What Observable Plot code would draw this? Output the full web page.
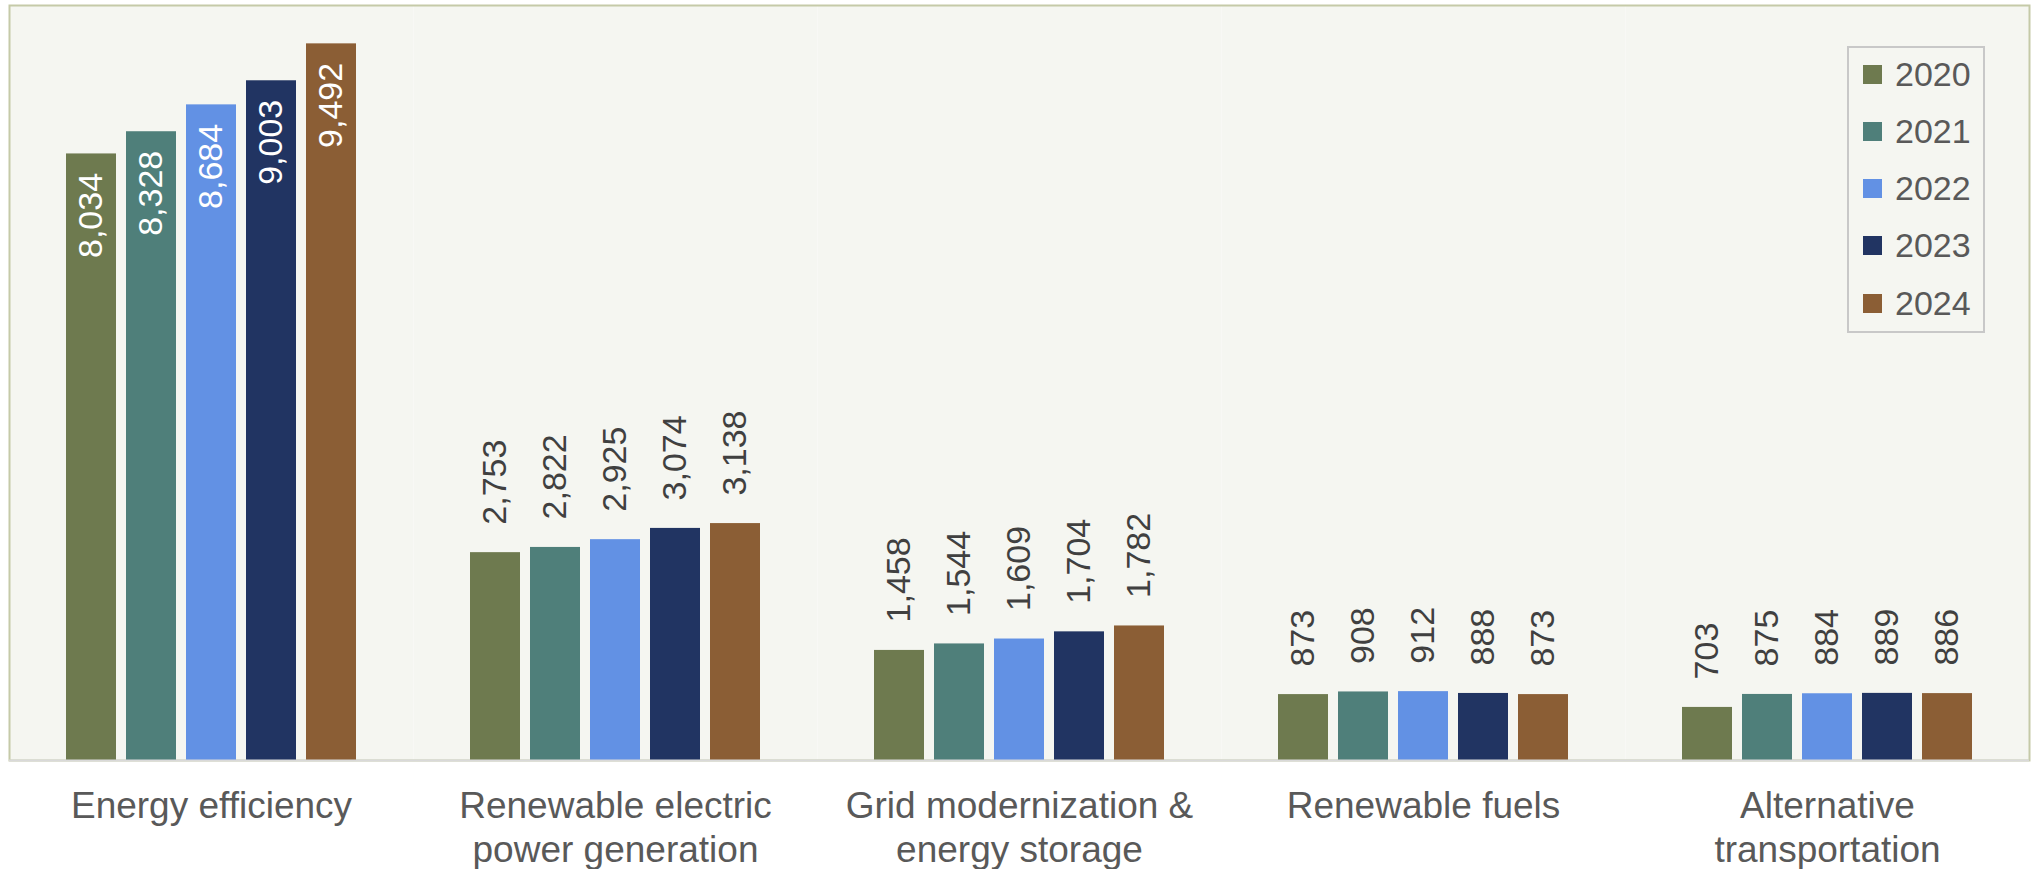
<!DOCTYPE html>
<html>
<head>
<meta charset="utf-8">
<script src="https://cdn.jsdelivr.net/npm/d3@7"></script>
<script src="https://cdn.jsdelivr.net/npm/@observablehq/plot@0.6"></script>
<style>
  html, body { margin: 0; padding: 0; background: #ffffff; }
  #wrap { position: relative; width: 2034px; height: 869px; font-family: "Liberation Sans", Arial, sans-serif; }
  #legend {
    position: absolute; left: 1847px; top: 46px; width: 138px; height: 287px;
    box-sizing: border-box; border: 2px solid #c8c8c8; background: #f5f6f1;
    display: flex; flex-direction: column; justify-content: space-between;
    padding: 6px 0 8px 14px; font-size: 34px; color: #595959;
  }
  #legend .row { display: flex; align-items: center; height: 40px; }
  #legend .sw { width: 19px; height: 19px; margin-right: 13px; flex: none; }
</style>
</head>
<body>
<div id="wrap"></div>
<script>
// Investment categories and their axis labels (two-line where wrapped)
const categories = [
  "Energy efficiency",
  "Renewable electric power generation",
  "Grid modernization & energy storage",
  "Renewable fuels",
  "Alternative transportation"
];
const categoryLabels = [
  "Energy efficiency",
  "Renewable electric\npower generation",
  "Grid modernization &\nenergy storage",
  "Renewable fuels",
  "Alternative\ntransportation"
];

// Years (series) and their colours
const years = ["2020", "2021", "2022", "2023", "2024"];
const yearColors = ["#6e7a4f", "#4f7f7a", "#6291e4", "#213462", "#8b5e35"];

// Values per year, in category order
const values2020 = [8034, 2753, 1458, 873, 703];
const values2021 = [8328, 2822, 1544, 908, 875];
const values2022 = [8684, 2925, 1609, 912, 884];
const values2023 = [9003, 3074, 1704, 888, 889];
const values2024 = [9492, 3138, 1782, 873, 886];
const seriesValues = [values2020, values2021, values2022, values2023, values2024];

// Long-format table for the grouped bars
const rows = [];
categories.forEach((category, i) => {
  years.forEach((year, j) => {
    rows.push({category, year, value: seriesValues[j][i]});
  });
});

const labelOf = new Map(categories.map((c, i) => [c, categoryLabels[i]]));
const fmt = d3.format(",");
const insideThreshold = 5000; // tall bars carry their label inside

const chart = Plot.plot({
  width: 2034,
  height: 869,
  marginTop: 5,
  marginLeft: 8,
  marginRight: 5,
  marginBottom: 109,
  style: {
    background: "transparent",
    color: "#595959",
    fontFamily: "'Liberation Sans', Arial, sans-serif",
    fontSize: "34px",
    overflow: "visible"
  },
  fx: {domain: categories, padding: 0, label: null},
  x: {domain: years, paddingInner: 0.17, paddingOuter: 0.9, axis: null},
  y: {domain: [0, 10000], axis: null},
  color: {domain: years, range: yearColors},
  marks: [
    Plot.frame({fill: "#f5f6f1", stroke: "none"}),
    Plot.frame({facet: "super", stroke: "#c5caa8", strokeWidth: 2, fill: "none"}),
    Plot.barY(rows, {fx: "category", x: "year", y: "value", fill: "year"}),
    Plot.ruleY([0], {stroke: "#d9d9d9", strokeWidth: 2}),
    Plot.text(rows.filter(d => d.value >= insideThreshold), {
      fx: "category", x: "year", y: "value",
      text: d => fmt(d.value),
      rotate: -90, textAnchor: "end", dy: 19,
      fill: "#ffffff", fontSize: 34
    }),
    Plot.text(rows.filter(d => d.value < insideThreshold), {
      fx: "category", x: "year", y: "value",
      text: d => fmt(d.value),
      rotate: -90, textAnchor: "start", dy: -28,
      fill: "#404040", fontSize: 34
    }),
    Plot.axisFx({
      anchor: "bottom", tickSize: 0, tickPadding: 27,
      fontSize: 37, lineHeight: 1.17, label: null,
      tickFormat: d => labelOf.get(d)
    })
  ]
});

const wrap = document.getElementById("wrap");
wrap.appendChild(chart);

// Legend box in the upper right of the plot area
const color = chart.scale("color");
const legend = d3.select(wrap).append("div").attr("id", "legend");
const row = legend.selectAll("div.row").data(color.domain).join("div").attr("class", "row");
row.append("div").attr("class", "sw").style("background", (d, i) => color.range[i]);
row.append("span").text(d => d);
</script>
</body>
</html>
